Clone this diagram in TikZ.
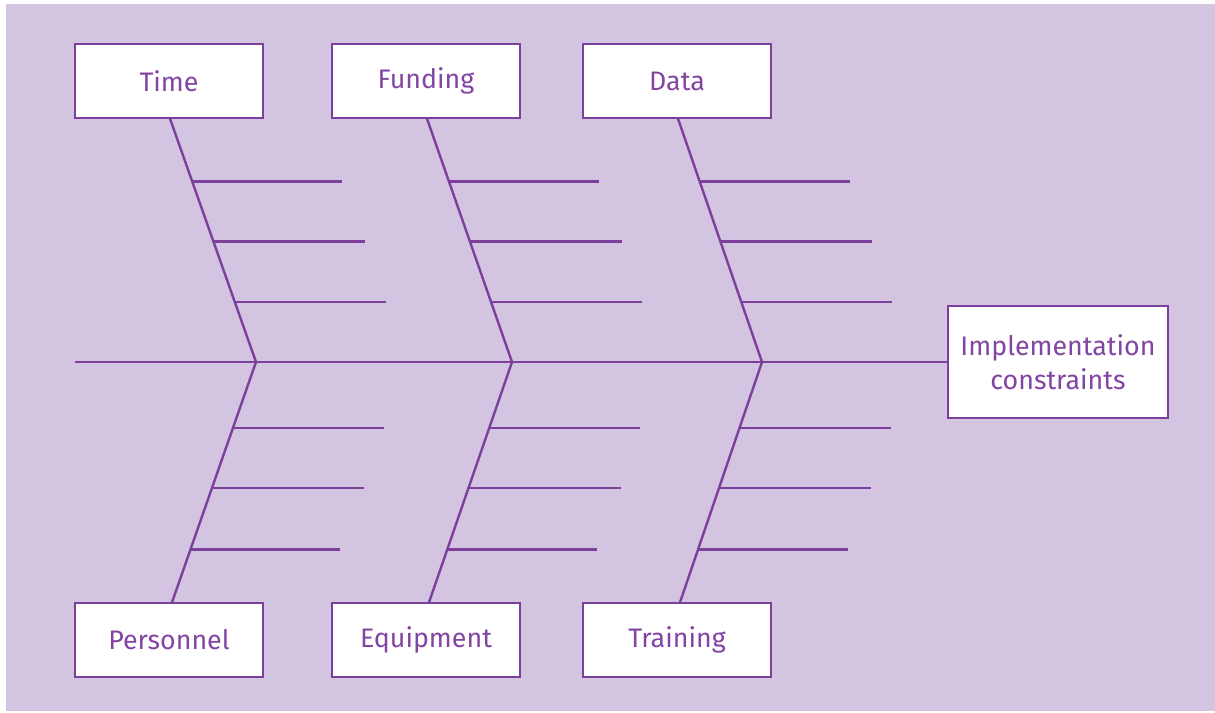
\documentclass[tikz,border=0pt]{standalone}
\usepackage{fontspec}
\setmainfont{Fira Sans}
\usetikzlibrary{calc, positioning}
\definecolor{fishbg}{HTML}{D3C4E2}
\definecolor{fishline}{HTML}{7D3F9C}
\definecolor{fishtext}{HTML}{8245A3}
\tikzstyle{cause}=[draw=fishline,fill=white,rectangle,line width=1.3pt,minimum width=188pt,minimum height=74pt,text=fishtext,font=\fontsize{26.8}{34}\selectfont]
\tikzstyle{bone}=[draw=fishline,line width=2.4pt]

\begin{document}
\begin{tikzpicture}[x=1pt,y=-1pt]
    \useasboundingbox (0,0) rectangle (1215,712);
    \fill[fishbg] (6,4) rectangle (1215,711);

    % effect and spine
    \node[cause, minimum width=220pt, minimum height=112pt, align=center] (effect) at (1058,362) {Implementation\\constraints};
    \coordinate (tail) at (75,362);
    \draw[bone] (tail) -- (effect.west);

    % cause boxes
    \node[cause] (time) at (169,81) {Time};
    \node[cause] (funding) at (426,81) {Funding};
    \node[cause] (data) at (677,81) {Data};
    \node[cause] (personnel) at (169,640) {Personnel};
    \node[cause] (equipment) at (426,640) {Equipment};
    \node[cause] (training) at (677,640) {Training};

    % joints on the spine
    \coordinate (j1) at (256,362);
    \coordinate (j2) at (512,362);
    \coordinate (j3) at (762,362);

    \foreach \src/\j in {time/j1, funding/j2, data/j3}{
        \draw[bone] ([xshift=1pt]\src.south) -- (\j);
        \foreach \t/\len in {0.258/150, 0.504/152, 0.754/151}
            \draw[bone] ($([xshift=1pt]\src.south)!\t!(\j)$) -- ++(\len,0);
    }
    \foreach \src/\j in {personnel/j1, equipment/j2, training/j3}{
        \draw[bone] ([xshift=3pt]\src.north) -- (\j);
        \foreach \t/\len in {0.22/150, 0.477/152, 0.726/151}
            \draw[bone] ($([xshift=3pt]\src.north)!\t!(\j)$) -- ++(\len,0);
    }
\end{tikzpicture}
\end{document}
